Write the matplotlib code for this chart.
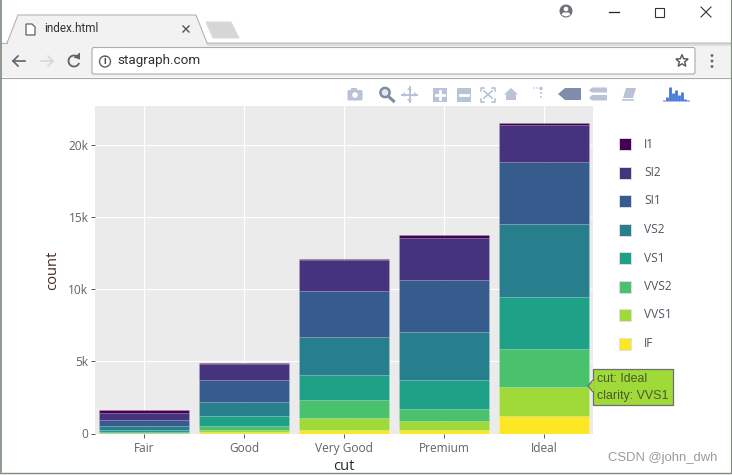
#!/usr/bin/env python3
import numpy as np
import matplotlib
matplotlib.use("Agg")
import matplotlib.pyplot as plt
from matplotlib.patches import Circle, Polygon, Rectangle, FancyBboxPatch

cuts = ["Fair", "Good", "Very Good", "Premium", "Ideal"]
clarity = ["I1", "SI2", "SI1", "VS2", "VS1", "VVS2", "VVS1", "IF"]
colors = ["#440154", "#46337E", "#365C8D", "#277F8E", "#1FA187", "#4AC16D", "#A0DA39", "#FDE725"]

i1 = [210, 96, 84, 205, 146]
si2 = [466, 1081, 2100, 2949, 2598]
si1 = [408, 1560, 3240, 3575, 4282]
vs2 = [261, 978, 2591, 3357, 5071]
vs1 = [170, 648, 1775, 1989, 3589]
vvs2 = [69, 286, 1235, 870, 2606]
vvs1 = [17, 186, 789, 616, 2047]
if_ = [9, 71, 268, 230, 1212]
series = [i1, si2, si1, vs2, vs1, vvs2, vvs1, if_]

y_ticks = [0, 5000, 10000, 15000, 20000]
y_labels = ["0", "5k", "10k", "15k", "20k"]

W, H = 732, 475
ICON = "#b9c2d6"
ICON_DARK = "#7f8dab"
TICK_GREY = "#5f6368"

plt.rcParams["font.family"] = ["Open Sans", "DejaVu Sans"]
fig = plt.figure(figsize=(W / 100, H / 100), dpi=100, facecolor="white")


def pixel_axes(z):
    a = fig.add_axes([0, 0, 1, 1], zorder=z)
    a.set_xlim(0, W)
    a.set_ylim(H, 0)
    a.axis("off")
    a.patch.set_alpha(0)
    return a


bg = pixel_axes(0)

# --- browser window ---
bg.add_patch(Rectangle((1, 43), W - 1, 34, fc="#f2f2f2", ec="none"))
bg.add_patch(Rectangle((207, 42), W - 207, 4, fc="#dedede", ec="none"))
bg.plot([1, 7], [43, 43], color="#b5b5b5", lw=0.8)
bg.plot([207, W], [43, 43], color="#c8c8c8", lw=0.8)
bg.plot([0, W], [77.5, 77.5], color="#a8a8a8", lw=0.8)
bg.add_patch(Polygon([(7, 43), (18, 15), (196, 15), (207, 43)], closed=True,
                     fc="#f2f2f2", ec="#b4b4b4", lw=0.8))
bg.add_patch(Rectangle((8, 42), 198, 5, fc="#f2f2f2", ec="none"))
bg.add_patch(Polygon([(206, 22), (231, 22), (239, 38), (213, 38)], closed=True,
                     fc="#d6d6d6", ec="#dcdcdc", lw=0.8))
bg.add_patch(FancyBboxPatch((92, 47.5), 603, 26.5, boxstyle="round,pad=0,rounding_size=2",
                            fc="white", ec="#ababab", lw=0.8))
bg.plot([0.6, 0.6], [0, 472], color="#7d8a7d", lw=1.2)
bg.plot([0, W], [472.5, 472.5], color="#7d8a7d", lw=1)
bg.plot([731.4, 731.4], [0, 472], color="#7d8a7d", lw=0.8)

# tab contents
bg.add_patch(Polygon([(26, 24), (32, 24), (35, 27), (35, 35), (26, 35)], closed=True,
                     fc="white", ec="#5f6368", lw=0.9))
bg.text(44, 29, "index.html", fontsize=8.5, color="#333333", va="center", family="Roboto")
bg.plot([183, 189], [26, 32], color="#555555", lw=1)
bg.plot([183, 189], [32, 26], color="#555555", lw=1)

# nav buttons
for x0, c in [(19, "#5f6368"), (47, "#d8d8d8")]:
    d = -1 if c == "#5f6368" else 1
    bg.plot([x0 - 6, x0 + 6], [61, 61], color=c, lw=1.2)
    bg.plot([x0 + d * 6 + (-d) * 5, x0 + d * 6, x0 + d * 6 + (-d) * 5], [56, 61, 66],
            color=c, lw=1.2)
theta = np.radians(np.linspace(30, 330, 40))
bg.plot(74 + 5.5 * np.cos(theta), 61 - 5.5 * np.sin(theta), color="#5f6368", lw=1.3)
bg.add_patch(Polygon([(80, 52.5), (80, 59.5), (73.5, 57.5)], closed=True, fc="#5f6368", ec="none"))

bg.add_patch(Circle((105, 61.5), 5.5, fc="white", ec="#5f6368", lw=1))
bg.text(105, 61.5, "i", fontsize=7, color="#444444", ha="center", va="center",
        family="Liberation Sans", weight="bold")
bg.text(117, 60.5, "stagraph.com", fontsize=9.7, color="#303030", va="center", family="Roboto")

star = [(682 + r * np.sin(t), 61 - r * np.cos(t))
        for t, r in zip(np.linspace(0, 2 * np.pi, 10, endpoint=False), [6.5, 2.8] * 5)]
bg.add_patch(Polygon(star, closed=True, fc="white", ec="#555555", lw=1))
for yy in [55.5, 61, 66.5]:
    bg.add_patch(Circle((712, yy), 1.4, fc="#5f6368", ec="none"))

# window buttons
bg.add_patch(Circle((566, 11), 6.5, fc="#6e7278", ec="none"))
bg.add_patch(Circle((566, 9), 2.3, fc="white", ec="none"))
bg.add_patch(Polygon([(561.5, 15), (563, 12.5), (569, 12.5), (570.5, 15), (566, 16.5)],
                     closed=True, fc="white", ec="none"))
bg.plot([609, 619], [11.5, 11.5], color="#222222", lw=0.9)
bg.add_patch(Rectangle((655, 8), 9, 9, fc="white", ec="#333333", lw=0.8))
bg.plot([701, 711], [7, 17], color="#333333", lw=0.8)
bg.plot([701, 711], [17, 7], color="#333333", lw=0.8)

# --- plotly mode bar, rough icons ---
bg.add_patch(FancyBboxPatch((347.5, 90), 15, 10.5, boxstyle="round,pad=0,rounding_size=1.5", fc=ICON, ec="none"))
bg.add_patch(Rectangle((351, 88), 6, 3, fc=ICON, ec="none"))
bg.add_patch(Circle((355, 95), 2.8, fc="white", ec="none"))
bg.add_patch(Circle((385, 92.5), 4.6, fc="#e4e8f0", ec="#7f8aa3", lw=1.8))
bg.plot([389, 393.5], [97, 101], color="#7f8aa3", lw=2.2)
bg.plot([402, 417], [94.5, 94.5], color=ICON, lw=1.4)
bg.plot([409.5, 409.5], [87, 102], color=ICON, lw=1.4)
for tri in [[(402, 94.5), (405, 92), (405, 97)], [(417, 94.5), (414, 92), (414, 97)],
            [(409.5, 87), (407, 90), (412, 90)], [(409.5, 102), (407, 99), (412, 99)]]:
    bg.add_patch(Polygon(tri, closed=True, fc=ICON, ec="none"))
for x0 in [433, 457]:
    bg.add_patch(Rectangle((x0, 87.5), 14, 14, fc=ICON, ec="none"))
bg.plot([436, 444], [94.5, 94.5], color="white", lw=2)
bg.plot([440, 440], [90.5, 98.5], color="white", lw=2)
bg.plot([460, 468], [94.5, 94.5], color="white", lw=2)
for sx, sy in [(481, 87.5), (495, 87.5), (481, 101.5), (495, 101.5)]:
    dx = 3 if sx == 481 else -3
    dy = 3 if sy == 87.5 else -3
    bg.plot([sx + dx, sx, sx], [sy, sy, sy + dy], color=ICON, lw=1.2)
bg.plot([484, 492], [91, 98], color=ICON, lw=1.2)
bg.plot([484, 492], [98, 91], color=ICON, lw=1.2)
bg.add_patch(Polygon([(511, 88), (518, 94.5), (516, 94.5), (516, 100), (506, 100), (506, 94.5), (504, 94.5)],
                     closed=True, fc=ICON, ec="none"))
for px, py, r in [(534, 88, 0.8), (537, 88, 0.8), (541, 88.5, 1.8), (541, 93, 1), (541, 97, 1)]:
    bg.add_patch(Circle((px, py), r, fc=ICON, ec="none"))
bg.add_patch(Polygon([(558, 94), (565, 88), (581, 88), (581, 100), (565, 100)],
                     closed=True, fc=ICON_DARK, ec="none"))
bg.add_patch(Polygon([(589, 90.5), (592, 87.5), (607, 87.5), (607, 92.5), (592, 92.5)],
                     closed=True, fc=ICON, ec="none"))
bg.add_patch(Polygon([(589, 98), (592, 95), (607, 95), (607, 100.5), (592, 100.5)],
                     closed=True, fc=ICON, ec="none"))
bg.add_patch(Polygon([(626, 88), (636, 88), (633, 98), (623, 98)], closed=True, fc=ICON, ec="none"))
bg.plot([622.5, 632.5], [99.5, 99.5], color=ICON, lw=1.2)
logo_x = [664, 667, 670, 673, 676, 679, 682, 685, 688]
logo_h = [1, 4, 14, 8, 11, 6, 9, 2, 1]
bg.vlines(logo_x, [101] * 9, [101 - h for h in logo_h], color="#4577d8", lw=2)

# --- chart panel ---
ax = fig.add_axes([95 / W, 1 - 433.5 / H, (593 - 95) / W, (433.5 - 106) / H], zorder=2)
ax.set_facecolor("#ebebeb")
for s in ax.spines.values():
    s.set_visible(False)

x = np.arange(1, len(cuts) + 1)
bottom = np.zeros(len(cuts))
# stack from IF upwards, I1 ends up on top
for vals, name, col in list(zip(series, clarity, colors))[::-1]:
    ax.bar(x, vals, width=0.9, bottom=bottom, color=col, label=name,
           edgecolor=(1, 1, 1, 0.12), linewidth=0.7, zorder=3)
    bottom = bottom + np.array(vals)

ax.set_xlim(0.51, 5.49)
ax.set_ylim(0, 22710)
ax.set_xticks(x)
ax.set_xticklabels(cuts)
ax.set_yticks(y_ticks)
ax.set_yticklabels(y_labels)
ax.grid(True, color="white", lw=0.8, zorder=1)
ax.set_axisbelow(True)
ax.tick_params(axis="x", pad=3.6)
ax.tick_params(axis="y", pad=2.2)
ax.tick_params(axis="both", length=2.6, width=0.7, color="#555555", labelcolor=TICK_GREY,
               labelsize=8.6)
ax.set_xlabel("cut", fontsize=10.6, color="#2a2a2a", labelpad=2.5)
ax.set_ylabel("count", fontsize=10.6, color="#4a2a22", labelpad=6)

# --- legend, tooltip, watermark ---
top = pixel_axes(4)
leg_y = [144, 172.5, 201, 229.5, 258, 286.5, 315, 343.5]
for name, col, yy in zip(clarity, colors, leg_y):
    top.add_patch(Rectangle((618.5, yy - 6), 12, 12, fc=col, ec=(0.88, 0.88, 0.92, 0.9), lw=0.7))
    top.text(644, yy, name, fontsize=8.6, color="#505560", va="center")

top.add_patch(Polygon([(593, 380), (588, 386), (593, 392)], closed=True,
                      fc=colors[6], ec="#6e6e6e", lw=0.9))
top.add_patch(Rectangle((593, 368.5), 80, 36.5, fc=colors[6], ec="#6e6e6e", lw=0.9))
top.add_patch(Rectangle((592, 381), 2, 10, fc=colors[6], ec="none"))
top.text(597, 379, "cut: Ideal", fontsize=8.9, color="#4a5a2c", va="center", family="Liberation Sans")
top.text(597, 395.5, "clarity: VVS1", fontsize=8.9, color="#4a5a2c", va="center", family="Liberation Sans")
top.text(608, 458, "CSDN @john_dwh", fontsize=9.4, color="#9a9a9a", va="center", family="Liberation Sans")

fig.savefig("out.png", dpi=100)
plt.close(fig)
